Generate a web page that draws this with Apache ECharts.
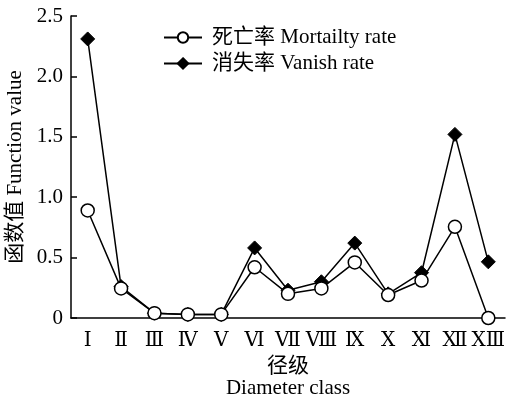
<!DOCTYPE html>
<html><head><meta charset="utf-8">
<script src="https://cdn.jsdelivr.net/npm/echarts@6/dist/echarts.min.js"></script>
<style>html,body{margin:0;padding:0;background:#fff}#c{width:506px;height:394px}</style>
</head><body><div id="c"></div>
<script>
const categories = ['Ⅰ','Ⅱ','Ⅲ','Ⅳ','Ⅴ','Ⅵ','Ⅶ','Ⅷ','Ⅸ','Ⅹ','Ⅺ','Ⅻ','ⅩⅢ'];
const mortality = [0.89,0.245,0.04,0.03,0.03,0.42,0.20,0.245,0.46,0.19,0.31,0.755,0.0];
const vanish = [2.31,0.26,0.04,0.03,0.03,0.58,0.23,0.30,0.62,0.20,0.375,1.52,0.465];
const seriesNames = ['死亡率 Mortailty rate','消失率 Vanish rate'];
const yTicks = {min:0,max:2.5,interval:0.5};

const FF = '"Liberation Serif","DejaVu Serif","Noto Sans CJK SC",serif';
const chart = echarts.init(document.getElementById('c'));
chart.setOption({
  animation:false,
  backgroundColor:'#fff',
  grid:{left:71,right:1,top:16,bottom:76,containLabel:false,outerBoundsMode:'none'},
  legend:{
    orient:'vertical', left:163, top:27, padding:0, itemWidth:38, itemHeight:13, itemGap:5,
    textStyle:{fontFamily:FF,fontSize:21,color:'#000',padding:[0,0,0,5]},
    data:seriesNames
  },
  xAxis:{
    type:'category', data:categories, boundaryGap:true,
    axisLine:{lineStyle:{color:'#000',width:1.5}},
    axisTick:{inside:true,length:6,lineStyle:{color:'#000',width:1.5}},
    axisLabel:{fontFamily:FF,fontSize:20,color:'#000',margin:13,interval:0},
    name:'径级\nDiameter class', nameLocation:'middle', nameGap:48,
    nameTextStyle:{fontFamily:FF,fontSize:21,color:'#000',lineHeight:22,verticalAlign:'middle'}
  },
  yAxis:{
    type:'value', min:yTicks.min, max:yTicks.max, interval:yTicks.interval,
    splitLine:{show:false},
    axisLine:{show:true,lineStyle:{color:'#000',width:1.5}},
    axisTick:{show:true,inside:true,length:6,lineStyle:{color:'#000',width:1.5}},
    axisLabel:{fontFamily:FF,fontSize:21,color:'#000',margin:8,
      formatter:v=>v===0?'0':v.toFixed(1)},
    name:'函数值 Function value', nameLocation:'middle', nameGap:44,
    nameTextStyle:{fontFamily:FF,fontSize:21,color:'#000'}
  },
  series:[
    {name:seriesNames[0],type:'line',data:mortality,symbol:'circle',symbolSize:13,
     showAllSymbol:true,z:3,
     lineStyle:{color:'#000',width:1.5},
     itemStyle:{color:'#fff',borderColor:'#000',borderWidth:1.5}},
    {name:seriesNames[1],type:'line',data:vanish,symbol:'diamond',symbolSize:14,
     showAllSymbol:true,z:2,
     lineStyle:{color:'#000',width:1.5},
     itemStyle:{color:'#000',borderColor:'#000',borderWidth:1}}
  ]
});
</script></body></html>
